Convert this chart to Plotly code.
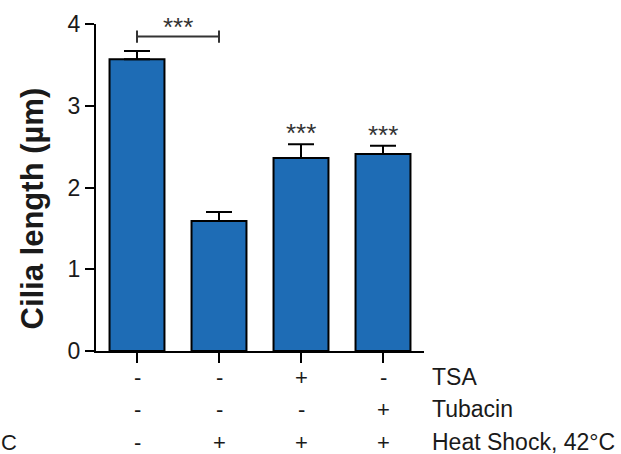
import plotly.graph_objects as go

# Mean cilia length per condition with SEM
groups = ["ctrl", "hs", "hs_tsa", "hs_tub"]
means = [3.57, 1.59, 2.36, 2.41]
sems = [0.10, 0.11, 0.17, 0.10]
stars = ["", "", "***", "***"]

# Treatment table below the bars
row_labels = ["TSA", "Tubacin", "Heat Shock, 42°C"]
tsa = ["-", "-", "+", "-"]
tubacin = ["-", "-", "-", "+"]
heat = ["-", "+", "+", "+"]

# Comparison bracket: control vs heat shock
bracket_pair = (0, 1)
bracket_label = "***"

y_ticks = [0, 1, 2, 3, 4]

BLUE = "rgb(30,108,181)"
FONT = "Liberation Sans, Arial, sans-serif"
TXT = "#1a1a1a"

x = list(range(len(groups)))

fig = go.Figure()
fig.add_trace(go.Bar(
    x=x, y=means, width=0.67,
    marker=dict(color=BLUE, line=dict(color="black", width=2)),
    error_y=dict(type="data", symmetric=False, array=sems,
                 arrayminus=[0] * len(sems), color="black",
                 thickness=2, width=13),
    hoverinfo="skip",
))

ann = []
# stars above the treated bars
for i, (m, s, st) in enumerate(zip(means, sems, stars)):
    if st:
        ann.append(dict(x=i, y=m + s, xref="x", yref="y", text=st,
                        showarrow=False, yanchor="bottom", yshift=-6,
                        font=dict(size=26, color="#333", family=FONT)))

# bracket between control and heat shock
a, b = bracket_pair
by = 3.846
fig.add_shape(type="line", x0=a, x1=b, y0=by, y1=by, xref="x", yref="y",
              line=dict(color="#333", width=2))
for xe in (a, b):
    fig.add_shape(type="line", x0=xe, x1=xe, y0=by - 0.075, y1=by + 0.075,
                  xref="x", yref="y", line=dict(color="#333", width=2))
ann.append(dict(x=(a + b) / 2, y=by, xref="x", yref="y", text=bracket_label,
                showarrow=False, yanchor="bottom", yshift=-7,
                font=dict(size=26, color="#333", family=FONT)))

# treatment table rows
shifts = [-26, -58, -91]
for label, row, sh in zip(row_labels, [tsa, tubacin, heat], shifts):
    for i, sym in enumerate(row):
        ann.append(dict(x=i, y=0, xref="x", yref="paper", text=sym,
                        showarrow=False, yanchor="middle", yshift=sh,
                        font=dict(size=22, color=TXT, family=FONT)))
    ann.append(dict(x=1.0174, y=0, xref="paper", yref="paper", text=label,
                    showarrow=False, xanchor="left", yanchor="middle",
                    yshift=sh, font=dict(size=23, color=TXT, family=FONT)))

# fragment of a neighbouring label at the left edge
ann.append(dict(x=0, y=0, xref="paper", yref="paper", text="C",
                showarrow=False, xanchor="left", yanchor="middle",
                xshift=-97, yshift=-91,
                font=dict(size=22, color=TXT, family=FONT)))

# y-axis title
ann.append(dict(x=0, y=0.5, xref="paper", yref="paper",
                text="<b>Cilia length (µm)</b>", textangle=-90,
                showarrow=False, xanchor="center", yanchor="middle",
                xshift=-64, yshift=-21,
                font=dict(size=31, color=TXT, family=FONT)))

fig.update_layout(
    width=621, height=454,
    margin=dict(l=96, r=197, t=24, b=102.5),
    paper_bgcolor="white", plot_bgcolor="white",
    showlegend=False,
    annotations=ann,
    xaxis=dict(range=[-0.5, 3.5], tickvals=x, ticktext=[""] * 4,
               showline=True, linecolor="black", linewidth=2,
               ticks="outside", ticklen=10, tickwidth=2, tickcolor="black",
               showgrid=False, zeroline=False, fixedrange=True),
    yaxis=dict(range=[0, 4], tickvals=y_ticks,
               showline=True, linecolor="black", linewidth=2,
               ticks="outside", ticklen=9, tickwidth=2, tickcolor="black",
               tickfont=dict(size=23, color=TXT, family=FONT),
               showgrid=False, zeroline=False, fixedrange=True),
)

fig.write_html("out.html")
